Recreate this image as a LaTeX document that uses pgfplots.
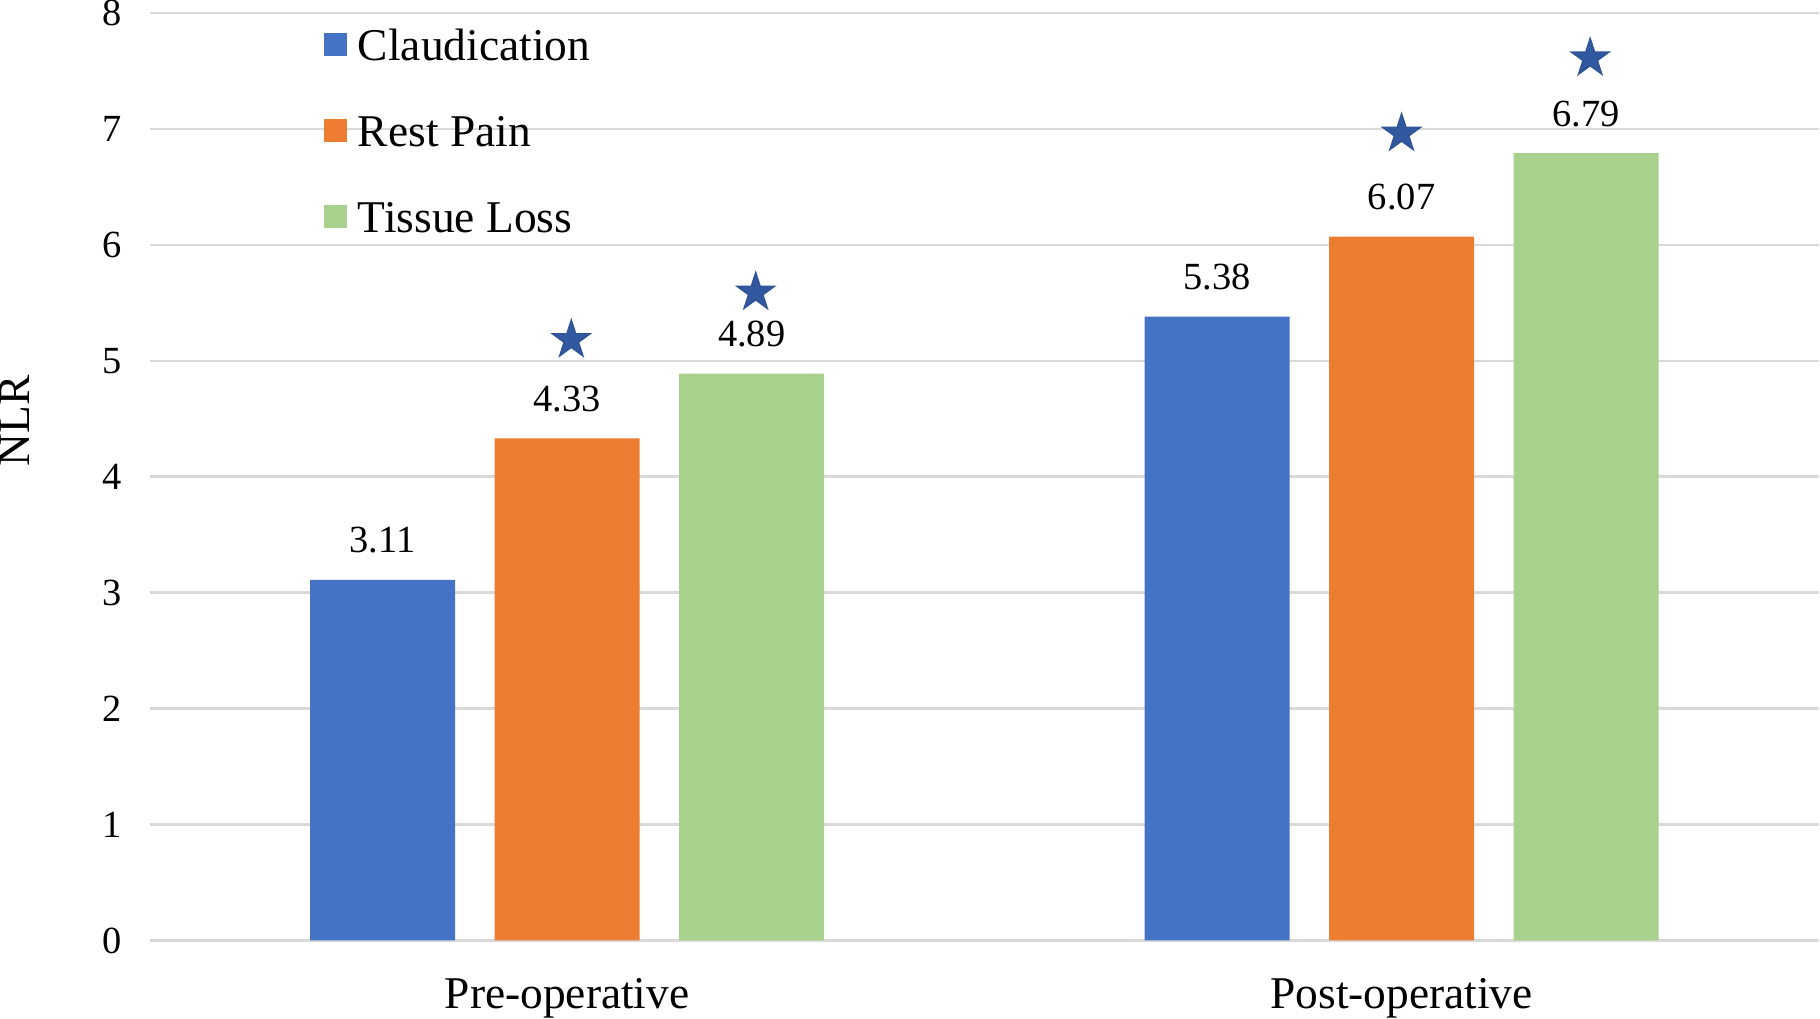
\documentclass[border=0pt]{standalone}
\usepackage{pgfplots}
\pgfplotsset{compat=1.18}
\usepackage{fontspec}
\setmainfont{Liberation Serif}
\definecolor{cblue}{HTML}{4472C4}
\definecolor{corange}{HTML}{ED7D31}
\definecolor{cgreen}{HTML}{A9D18E}
\definecolor{cstar}{HTML}{2F5597}
\definecolor{cstarfill}{HTML}{3259A0}
\definecolor{cgrid}{HTML}{D9D9D9}
\pgfdeclareplotmark{fstar}{%
 \pgfpathmoveto{\pgfpointpolar{90}{\pgfplotmarksize}}%
 \pgfpathlineto{\pgfpointpolar{126}{0.382\pgfplotmarksize}}%
 \pgfpathlineto{\pgfpointpolar{162}{\pgfplotmarksize}}%
 \pgfpathlineto{\pgfpointpolar{198}{0.382\pgfplotmarksize}}%
 \pgfpathlineto{\pgfpointpolar{234}{\pgfplotmarksize}}%
 \pgfpathlineto{\pgfpointpolar{270}{0.382\pgfplotmarksize}}%
 \pgfpathlineto{\pgfpointpolar{306}{\pgfplotmarksize}}%
 \pgfpathlineto{\pgfpointpolar{342}{0.382\pgfplotmarksize}}%
 \pgfpathlineto{\pgfpointpolar{18}{\pgfplotmarksize}}%
 \pgfpathlineto{\pgfpointpolar{54}{0.382\pgfplotmarksize}}%
 \pgfpathclose
 \pgfusepathqfillstroke}
\pgfplotsset{
 mybar/.style={ybar, bar width=36.25pt, draw=none, bar shift=#1,
  nodes near coords={\pgfmathprintnumber[fixed,precision=2,fixed zerofill]{\pgfplotspointmeta}},
  every node near coord/.append style={anchor=south, inner sep=0pt, yshift=6.4pt, xshift=#1, black,
    font=\fontsize{9.6}{11}\selectfont},
  legend image code/.code={\fill[##1] (0pt,-2.7pt) rectangle (5.75pt,3.05pt);}},
}
\begin{document}
\begin{tikzpicture}
\begin{axis}[
 scale only axis, width=417pt, height=231.75pt,
 xmin=-0.5, xmax=1.5, ymin=0, ymax=8,
 xtick={0,1}, xticklabels={Pre-operative, Post-operative},
 ytick={0,1,2,3,4,5,6,7,8},
 ymajorgrids, grid style={cgrid, line width=0.6pt},
 axis line style={draw=none},
 major tick length=0pt, tick style={draw=none},
 /pgf/number format/assume math mode=true,
 xticklabel style={font=\fontsize{11.35}{13}\selectfont, inner sep=0pt, anchor=north, yshift=-9.25pt},
 yticklabel style={font=\fontsize{9.6}{11}\selectfont, inner sep=0pt, anchor=east, xshift=-6.85pt},
 ylabel={NLR},
 ylabel style={at={(axis description cs:-0.0809,0.56)}, anchor=center, inner sep=0pt, font=\fontsize{11.35}{13}\selectfont},
 clip=false,
 legend cell align=left,
 legend style={at={(axis description cs:0.1043,0.9814)}, anchor=north west, draw=none, fill=none,
   inner sep=0pt, outer sep=0pt, row sep=14pt, column sep=2.75pt,
   font=\fontsize{11.35}{13}\selectfont,
   nodes={inner sep=0pt, text height=7.5pt, text depth=0pt}},
]
\addplot[mybar=-46.1pt, fill=cblue] coordinates {(0,3.11) (1,5.38)};
\addplot[mybar=0pt, fill=corange] coordinates {(0,4.33) (1,6.07)};
\addplot[mybar=46.1pt, fill=cgreen] coordinates {(0,4.89) (1,6.79)};
\addplot[forget plot, only marks, mark=fstar, mark size=4.87pt,
  mark options={fill=cstarfill, draw=cstar, line width=0.4pt}]
  coordinates {(0.005,5.18) (0.226,5.59) (1.0,6.96) (1.226,7.61)};
\legend{Claudication, Rest Pain, Tissue Loss}
\end{axis}
\end{tikzpicture}
\end{document}
